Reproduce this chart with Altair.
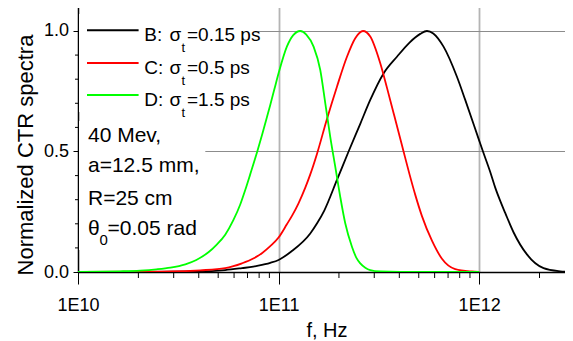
import altair as alt
import pandas as pd

# ---------------- data ----------------
series_names = ["B", "C", "D"]
series_colors = ["#000000", "#ff0000", "#00ff00"]

freq_B = [1.0e10, 2.29e10, 4.07e10, 5.42e10, 6.57e10, 7.48e10, 7.92e10, 9.09e10,
          1.0e11, 1.157e11, 1.439e11, 1.559e11, 1.69e11, 1.955e11, 2.234e11, 2.555e11,
          2.865e11, 3.338e11, 3.893e11, 4.498e11, 5.087e11, 5.494e11, 5.906e11,
          6.645e11, 7.751e11, 8.525e11, 1.001e12, 1.04e12, 1.136e12, 1.203e12,
          1.274e12, 1.349e12, 1.484e12, 1.731e12, 2.095e12, 2.537e12, 2.944e12]
norm_B = [0.0, 0.0005, 0.002, 0.008, 0.016, 0.022, 0.026, 0.038,
          0.05, 0.085, 0.16, 0.203, 0.255, 0.382, 0.50, 0.615,
          0.714, 0.824, 0.893, 0.952, 0.988, 1.0, 0.99,
          0.935, 0.81, 0.714, 0.545, 0.505, 0.415, 0.35,
          0.295, 0.245, 0.165, 0.073, 0.016, 0.003, 0.0]

freq_C = [1.0e10, 2.29e10, 2.89e10, 4.07e10, 5.42e10, 5.95e10, 6.57e10, 7.48e10,
          8.29e10, 9.09e10, 1.0e11, 1.10e11, 1.17e11, 1.254e11, 1.359e11, 1.439e11,
          1.554e11, 1.743e11, 1.955e11, 2.193e11, 2.412e11, 2.635e11, 2.865e11,
          3.214e11, 3.47e11, 3.744e11, 4.044e11, 4.2e11, 4.498e11, 4.804e11,
          5.187e11, 5.818e11, 6.525e11, 7.602e11, 9.206e11, 1.0e12]
norm_C = [0.0, 0.0015, 0.002, 0.007, 0.016, 0.024, 0.036, 0.056,
          0.079, 0.107, 0.143, 0.198, 0.235, 0.283, 0.35, 0.405,
          0.49, 0.635, 0.769, 0.893, 0.97, 1.0, 0.977,
          0.866, 0.765, 0.66, 0.553, 0.50, 0.405, 0.32,
          0.232, 0.13, 0.055, 0.012, 0.002, 0.0]

freq_D = [1.0e10, 1.29e10, 1.62e10, 2.04e10, 2.46e10, 2.89e10, 3.43e10, 3.89e10,
          4.47e10, 4.89e10, 5.42e10, 5.95e10, 6.44e10, 6.82e10, 7.22e10, 7.83e10,
          8.29e10, 8.68e10, 9.09e10, 9.52e10, 1.008e11, 1.10e11, 1.184e11, 1.283e11,
          1.375e11, 1.495e11, 1.614e11, 1.71e11, 1.81e11, 1.917e11, 2.03e11,
          2.15e11, 2.322e11, 2.44e11, 2.555e11, 2.706e11, 2.865e11, 3.214e11,
          4.044e11, 1.0e12]
norm_D = [0.0005, 0.0012, 0.003, 0.006, 0.011, 0.018, 0.032, 0.05,
          0.082, 0.112, 0.155, 0.215, 0.28, 0.34, 0.405, 0.50,
          0.572, 0.632, 0.693, 0.757, 0.835, 0.935, 0.983, 1.0,
          0.985, 0.935, 0.838, 0.70, 0.561, 0.437, 0.312,
          0.202, 0.105, 0.06, 0.036, 0.018, 0.008, 0.002,
          0.0, 0.0]

x_major = [1e10, 1e11, 1e12]
x_minor = [2e10, 3e10, 4e10, 5e10, 6e10, 7e10, 8e10, 9e10,
           2e11, 3e11, 4e11, 5e11, 6e11, 7e11, 8e11, 9e11, 2e12]
y_major = [0.0, 0.5, 1.0]
y_minor = [0.1, 0.2, 0.3, 0.4, 0.6, 0.7, 0.8, 0.9]

legend_prefix = ["B:", "C:", "D:"]
legend_sigma = ["=0.15 ps", "=0.5 ps", "=1.5 ps"]
note_lines = ["40 Mev,", "a=12.5 mm,", "R=25 cm"]
note_theta = ["\u03b8", "0", "=0.05 rad"]

x_title = "f, Hz"
y_title = "Normalized CTR spectra"

# ---------------- chart ----------------
FONT = "Liberation Sans"
W, H = 487, 266

rows = []
for name, fs, vs in zip(series_names, [freq_B, freq_C, freq_D], [norm_B, norm_C, norm_D]):
    for f, v in zip(fs, vs):
        rows.append({"series": name, "f": f, "v": v})
df = pd.DataFrame(rows)
one = pd.DataFrame({"k": [0]})

xscale = alt.Scale(type="log", domain=[1e10, 2.68e12], nice=False)
yscale = alt.Scale(domain=[0, 1.1037], nice=False, zero=False)

xaxis = alt.Axis(
    values=x_major, labelExpr="'1E' + round(log(datum.value)/LN10)",
    labelFlush=False, labelFont=FONT, labelFontSize=18, labelColor="black",
    labelPadding=12, tickSize=12, tickColor="black", tickWidth=1,
    domainColor="black", domainWidth=1.3,
    grid=True, gridColor="#b4b4b4", gridWidth=1.8,
    title=x_title, titleFont=FONT, titleFontSize=20, titleFontWeight="normal",
    titleColor="black", titleX=248.5, titleY=64.7, titleAlign="center",
    titleBaseline="alphabetic",
)
yaxis = alt.Axis(
    values=y_major, format=".1f", labelFont=FONT, labelFontSize=18,
    labelColor="black", labelPadding=4.5, tickSize=5, tickColor="black",
    tickWidth=1, domainColor="black", domainWidth=1.3,
    grid=True, gridColor="#8c8c8c", gridWidth=1.2,
    title=y_title, titleFont=FONT, titleFontSize=22, titleFontWeight="normal",
    titleColor="black", titleAngle=270, titleX=-45.5, titleY=148.5,
    titleAlign="center", titleBaseline="alphabetic",
)

X = alt.X("f:Q", scale=xscale, axis=xaxis)
Y = alt.Y("v:Q", scale=yscale, axis=yaxis)

lines = alt.Chart(df).mark_line(strokeWidth=1.8, interpolate="monotone", clip=True).encode(
    x=X, y=Y,
    color=alt.Color("series:N", scale=alt.Scale(domain=series_names, range=series_colors), legend=None),
)

minor_x = alt.Chart(pd.DataFrame({"f": x_minor})).mark_rule(color="black", strokeWidth=1).encode(
    x=X, y=alt.value(H), y2=alt.value(H + 6),
)
minor_y = alt.Chart(pd.DataFrame({"v": y_minor})).mark_rule(color="black", strokeWidth=1).encode(
    y=Y, x=alt.value(0), x2=alt.value(-3),
)

top_border = alt.Chart(one).mark_rule(color="black", strokeWidth=1.3).encode(
    x=alt.value(0), x2=alt.value(W), y=alt.value(0)
)

legend_box = alt.Chart(one).mark_rect(color="white").encode(
    x=alt.value(1), x2=alt.value(179.5), y=alt.value(8), y2=alt.value(106)
)
note_box = alt.Chart(one).mark_rect(color="white").encode(
    x=alt.value(1), x2=alt.value(127.3), y=alt.value(115), y2=alt.value(244)
)


def txt(s, x, y, size):
    return alt.Chart(one).mark_text(
        text=s, align="left", baseline="alphabetic", font=FONT, fontSize=size, color="black"
    ).encode(x=alt.value(x), y=alt.value(y))


layers = [lines, minor_x, minor_y, legend_box, note_box, top_border]

leg_line_y = [24.3, 57, 89]
leg_base_y = [35, 67.5, 100]
for i in range(3):
    layers.append(
        alt.Chart(one).mark_rule(color=series_colors[i], strokeWidth=2).encode(
            x=alt.value(9), x2=alt.value(60.6), y=alt.value(leg_line_y[i])
        )
    )
    layers.append(txt(legend_prefix[i], 66.3, leg_base_y[i], 19))
    layers.append(txt("\u03c3", 91.5, leg_base_y[i], 19))
    layers.append(txt("t", 103.5, leg_base_y[i] + 11, 13))
    layers.append(txt(legend_sigma[i], 109, leg_base_y[i], 19))

note_base_y = [135.5, 166.3, 199]
for s, yb in zip(note_lines, note_base_y):
    layers.append(txt(s, 10, yb, 21))
layers.append(txt(note_theta[0], 10, 229, 21))
layers.append(txt(note_theta[1], 21.5, 239, 15))
layers.append(txt(note_theta[2], 29.5, 229, 21))

chart = alt.layer(*layers).properties(
    width=W, height=H,
    autosize=alt.AutoSizeParams(type="none"),
    padding={"left": 70, "top": -2, "right": 0, "bottom": 68},
).configure_view(stroke=None)

chart.save("out.html", embed_options={"renderer": "svg", "actions": False})
